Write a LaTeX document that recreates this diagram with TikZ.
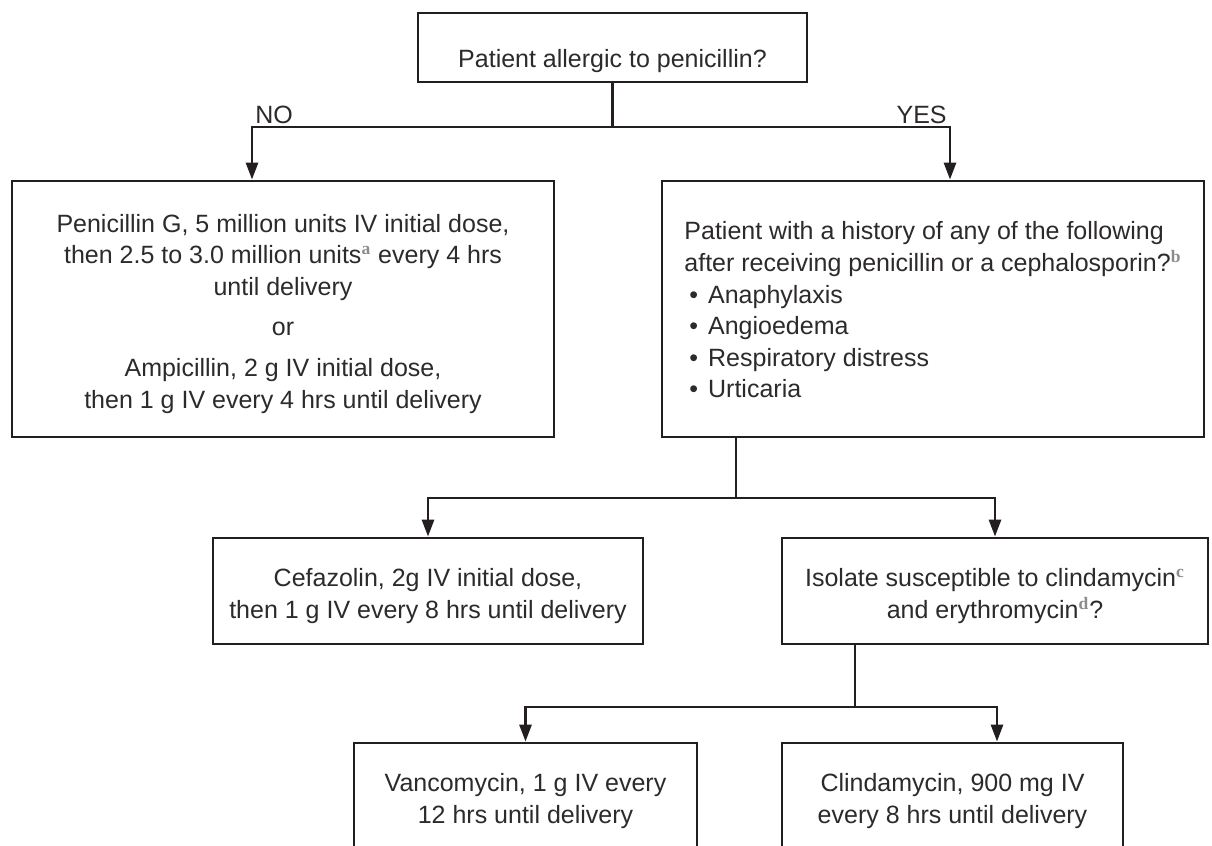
\documentclass[tikz,border=0pt]{standalone}
\usepackage{fontspec}
\setmainfont{Liberation Sans}
\newfontfamily\notefont{Liberation Serif}
\usetikzlibrary{arrows.meta}

\definecolor{ink}{RGB}{35,31,32}
\definecolor{textink}{RGB}{45,42,43}
\definecolor{notegray}{RGB}{140,140,140}
\newcommand{\notemark}[1]{\textsuperscript{\textcolor{notegray}{\notefont\bfseries #1}}}
\newcommand{\lift}[1]{\rule{0pt}{#1}}
\newcommand{\listdot}{\hspace*{2.5pt}\textbullet\hspace{5pt}}

\tikzset{
  box/.style={draw=ink, line width=1.4pt, inner sep=0pt, align=center, text=textink,
    font=\fontsize{12.5}{15.8}\selectfont},
  flow/.style={draw=ink, line width=1.4pt, -{Triangle[length=8.5pt,width=6pt]}},
  lbl/.style={text=textink, inner sep=0pt, font=\fontsize{12.5}{15}\selectfont}
}

\begin{document}
\begin{tikzpicture}[x=0.5pt,y=-0.5pt]
\fill[white] (0,0) rectangle (1212,846);
\useasboundingbox (0,0) rectangle (1212,846);

% question at the top
\node[box, minimum width=194.5pt, minimum height=34.5pt] (top) at (612.5,47.5)
  {\lift{23pt}Patient allergic to penicillin?};

% first answer level
\node[box, minimum width=271pt, minimum height=128pt] (nobox) at (283,309)
  {\lift{13.6pt}Penicillin G, 5 million units IV initial dose,\\
   then 2.5 to 3.0 million units\notemark{a} every 4 hrs\\
   until delivery\\[4.5pt]
   or\\[4.5pt]
   Ampicillin, 2 g IV initial dose,\\
   then 1 g IV every 4 hrs until delivery};
\node[box, align=left, minimum width=271pt, minimum height=128pt] (yesbox) at (933,309)
  {\lift{10pt}Patient with a history of any of the following\\
   after receiving penicillin or a cephalosporin?\notemark{b}\\
   \listdot Anaphylaxis\\
   \listdot Angioedema\\
   \listdot Respiratory distress\\
   \listdot Urticaria};

% second level
\node[box, minimum width=215pt, minimum height=53pt] (cefa) at (428,591)
  {\lift{14pt}Cefazolin, 2g IV initial dose,\\ then 1 g IV every 8 hrs until delivery};
\node[box, minimum width=213pt, minimum height=53pt] (isol) at (995,591)
  {\lift{14pt}Isolate susceptible to clindamycin\notemark{c}\\ and erythromycin\notemark{d}?};

% third level
\node[box, minimum width=171.5pt, minimum height=53pt] (vanco) at (525.5,796)
  {\lift{14pt}Vancomycin, 1 g IV every\\ 12 hrs until delivery};
\node[box, minimum width=170.5pt, minimum height=53pt] (clinda) at (952.5,796)
  {\lift{14pt}Clindamycin, 900 mg IV\\ every 8 hrs until delivery};

% connectors
\coordinate (nobend) at (252,127);
\coordinate (yesbend) at (950,127);
\draw[flow] (top.south) |- (nobend) -- (nobend |- nobox.north);
\draw[flow] (top.south) |- (yesbend) -- (yesbend |- yesbox.north);
\node[lbl, anchor=base west] (nolabel) at (255,123) {NO};
\node[lbl, anchor=base east] (yeslabel) at (947,123) {YES};

\coordinate (split) at (736,498);
\draw[flow] (yesbox.south -| split) -- (split) -| (cefa.north);
\draw[flow] (yesbox.south -| split) -- (split) -| (isol.north);

\coordinate (isolsplit) at (855,707);
\coordinate (clindabend) at (997,707);
\draw[flow] (isol.south -| isolsplit) -- (isolsplit) -| (vanco.north);
\draw[flow] (isol.south -| isolsplit) -- (isolsplit) -- (clindabend) -- (clindabend |- clinda.north);

\end{tikzpicture}
\end{document}
